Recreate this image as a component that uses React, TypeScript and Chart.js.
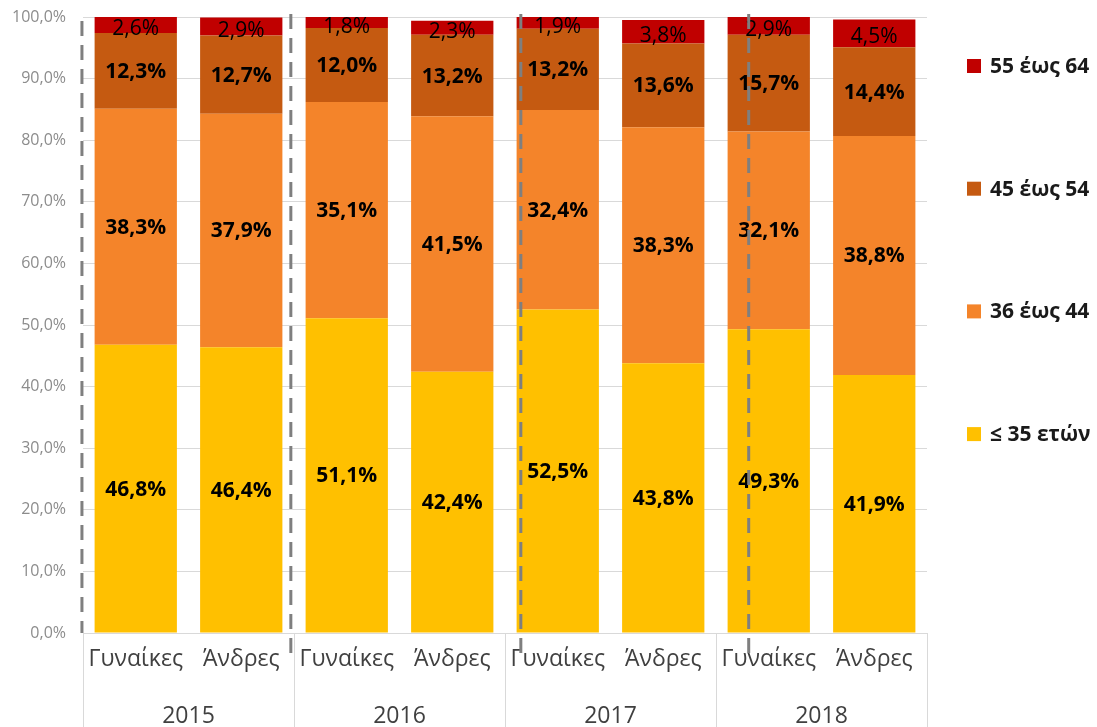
import React, { useEffect, useRef } from "react";
import { Chart, registerables } from "chart.js";

Chart.register(...registerables);

const categories = ["Γυναίκες", "Άνδρες", "Γυναίκες", "Άνδρες", "Γυναίκες", "Άνδρες", "Γυναίκες", "Άνδρες"];
const years = ["2015", "2016", "2017", "2018"];
const seriesNames = ["≤ 35 ετών", "36 έως 44", "45 έως 54", "55 έως 64"];
const under35 = [46.8, 46.4, 51.1, 42.4, 52.5, 43.8, 49.3, 41.9];
const age36to44 = [38.3, 37.9, 35.1, 41.5, 32.4, 38.3, 32.1, 38.8];
const age45to54 = [12.3, 12.7, 12.0, 13.2, 13.2, 13.6, 15.7, 14.4];
const age55to64 = [2.6, 2.9, 1.8, 2.3, 1.9, 3.8, 2.9, 4.5];
const yTickValues = [0, 10, 20, 30, 40, 50, 60, 70, 80, 90, 100];

const seriesColors = ["#FFC000", "#F4842A", "#C55A11", "#C00000"];
const FONT = "'Open Sans', 'Noto Sans', sans-serif";

// decorative dashed dividers, in category-index units
const dividerPos = [-0.51, 1.47, 3.65, 5.81];

const fmt = (v: number) => v.toFixed(1).replace(".", ",") + "%";

const overlayPlugin = {
  id: "overlay",
  afterDatasetsDraw(chart: any) {
    const ctx = chart.ctx;
    chart.data.datasets.forEach((ds: any, di: number) => {
      const meta = chart.getDatasetMeta(di);
      meta.data.forEach((el: any, i: number) => {
        const v = ds.data[i];
        const { x, y, base } = el.getProps(["x", "y", "base"], true);
        ctx.save();
        const isTop = di === chart.data.datasets.length - 1;
        ctx.font = `${isTop ? "normal" : "bold"} 21px ${FONT}`;
        ctx.fillStyle = "#000000";
        ctx.textAlign = "center";
        ctx.textBaseline = "middle";
        ctx.fillText(fmt(v), x, (y + base) / 2 + (isTop ? 4 : 1));
        ctx.restore();
      });
    });
  },
  afterDraw(chart: any) {
    const ctx = chart.ctx;
    const area = chart.chartArea;
    const xs = chart.scales.x;
    const H = chart.height;
    ctx.save();
    // category box lines
    ctx.strokeStyle = "#D9D9D9";
    ctx.lineWidth = 1;
    for (let g = 0; g <= years.length; g++) {
      const px = Math.round(xs.getPixelForValue(g * 2 - 0.5)) + 0.5;
      ctx.beginPath();
      ctx.moveTo(px, area.bottom);
      ctx.lineTo(px, H);
      ctx.stroke();
    }
    // year labels
    ctx.fillStyle = "#404040";
    ctx.font = `23px ${FONT}`;
    ctx.textAlign = "center";
    ctx.textBaseline = "middle";
    years.forEach((yr, g) => {
      const cx = xs.getPixelForValue(g * 2 + 0.5);
      ctx.fillText(yr, cx, area.bottom + 83);
    });
    // dashed dividers
    ctx.strokeStyle = "#7F7F7F";
    ctx.lineWidth = 3;
    ctx.setLineDash([15, 9]);
    dividerPos.forEach((p, k) => {
      const px = xs.getPixelForValue(p);
      const top = k === 0 ? area.top + 4 : area.top - 3;
      const bottom = k === 0 ? area.bottom : area.bottom + 23;
      ctx.beginPath();
      ctx.moveTo(px, top);
      ctx.lineTo(px, bottom);
      ctx.stroke();
    });
    ctx.setLineDash([]);
    // legend
    const legendX = area.right + 40;
    const legendTop = 66;
    const legendStep = 122.7;
    ctx.font = `bold 21px ${FONT}`;
    ctx.textAlign = "left";
    ctx.textBaseline = "middle";
    for (let k = 0; k < seriesNames.length; k++) {
      const si = seriesNames.length - 1 - k;
      const cy = legendTop + k * legendStep;
      ctx.fillStyle = seriesColors[si];
      ctx.fillRect(legendX, cy - 7, 14, 14);
      ctx.fillStyle = "#1A1A1A";
      ctx.fillText(seriesNames[si], legendX + 23, cy + 1);
    }
    ctx.restore();
  },
};

export default function App() {
  const ref = useRef<HTMLCanvasElement>(null);
  useEffect(() => {
    if (!ref.current) return;
    const seriesData = [under35, age36to44, age45to54, age55to64];
    const chart = new Chart(ref.current, {
      type: "bar",
      data: {
        labels: categories,
        datasets: seriesNames.map((name, i) => ({
          label: name,
          data: seriesData[i],
          backgroundColor: seriesColors[i],
          borderWidth: 0,
          categoryPercentage: 1,
          barPercentage: 0.78,
        })),
      },
      options: {
        animation: false,
        responsive: true,
        maintainAspectRatio: false,
        events: [],
        layout: { padding: { top: 17, right: 170, left: 0, bottom: 0 } },
        plugins: {
          legend: { display: false },
          tooltip: { enabled: false },
        },
        scales: {
          x: {
            stacked: true,
            grid: { display: false, drawTicks: false },
            border: { display: true, color: "#D9D9D9" },
            ticks: {
              color: "#404040",
              font: { family: FONT, size: 23 },
              padding: 13,
              maxRotation: 0,
              autoSkip: false,
            },
            afterFit: (s: any) => {
              s.height = 94;
              s.paddingLeft = 0;
              s.paddingRight = 0;
            },
          },
          y: {
            stacked: true,
            min: 0,
            max: 100,
            grid: { color: "#D9D9D9", lineWidth: 1, drawTicks: false },
            border: { display: false },
            afterBuildTicks: (s: any) => {
              s.ticks = yTickValues.map((v) => ({ value: v }));
            },
            ticks: {
              color: "#8C8C8C",
              font: { family: FONT, size: 16 },
              padding: 17,
              callback: (v: any) => fmt(Number(v)),
            },
            afterFit: (s: any) => {
              s.width = 83;
              s.paddingTop = 0;
              s.paddingBottom = 0;
            },
          },
        },
      },
      plugins: [overlayPlugin],
    });
    return () => chart.destroy();
  }, []);
  return (
    <div style={{ position: "fixed", left: 0, top: 0, width: 1097, height: 727, background: "#FFFFFF" }}>
      <canvas ref={ref} />
    </div>
  );
}
